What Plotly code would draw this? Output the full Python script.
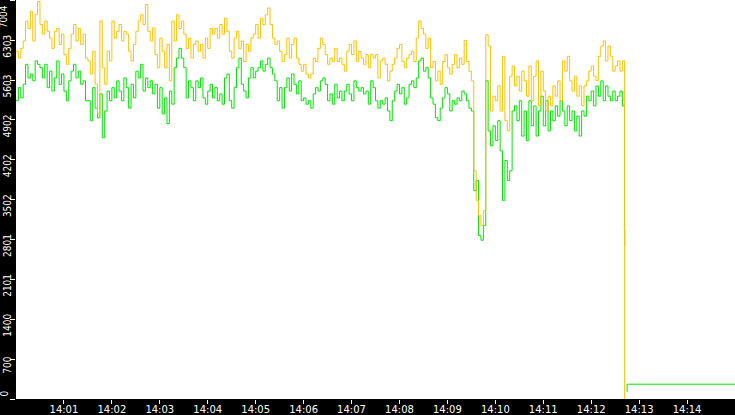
import pandas as pd
import plotly.graph_objects as go

day = '2024-01-01 '

# samples every 3 seconds from 14:00:00 up to 14:12:39
orange_vals = [
    6110, 5990, 6160, 6290, 6640, 6510, 6810, 6290, 6760, 6980,
    6580, 6410, 6640, 6460, 6340, 6160, 6460, 6510, 6230, 6410,
    6050, 5880, 6160, 6410, 6580, 6290, 6510, 6230, 6410, 5990,
    5940, 5710, 6110, 5530, 5010, 6640, 5820, 5530, 6110, 5940,
    6640, 6340, 6460, 6580, 6290, 6460, 6410, 6110, 5940, 6230,
    6460, 6640, 6750, 6580, 6930, 6460, 6290, 6520, 6050, 5820,
    6340, 6110, 5820, 6230, 5590, 6640, 6290, 6750, 6510, 6640,
    6410, 6160, 6340, 5990, 6230, 6290, 6110, 6230, 5990, 6340,
    6160, 6510, 6410, 6510, 6340, 6580, 6410, 6690, 6460, 6110,
    5990, 6340, 6460, 6160, 6290, 5930, 6230, 6110, 6340, 6410,
    6580, 6340, 6690, 6580, 6750, 6870, 6580, 6340, 6230, 6290,
    6110, 5930, 6050, 6340, 5990, 6230, 6340, 5990, 5880, 5760,
    5880, 5710, 5640, 5710, 5990, 5930, 6160, 6340, 6230, 6050,
    5880, 5990, 5930, 6160, 5930, 5990, 5880, 5760, 6110, 6230,
    6050, 6290, 5930, 6110, 5990, 5880, 6050, 5820, 6050, 5990,
    6050, 5640, 5940, 5990, 5880, 5590, 5760, 5880, 5990, 6160,
    6230, 5930, 5820, 5990, 6050, 6110, 5930, 6340, 6640, 6510,
    6410, 6160, 6340, 5820, 5930, 5590, 5760, 5530, 5930, 6050,
    5820, 5710, 5880, 6050, 5820, 5990, 5880, 6300, 5930, 5760,
    5590, 4010, 3490, 3220, 3050, 3310, 6400, 6200, 5060, 5320,
    5240, 5500, 5060, 6020, 4890, 4710, 5670, 5850, 5500, 5670,
    5410, 5760, 5590, 5320, 5850, 5240, 5670, 5940, 5150, 5760,
    5410, 5060, 5320, 5150, 5500, 5320, 5590, 5240, 5940, 5760,
    6020, 5590, 5410, 5670, 5320, 5500, 5150, 5500, 5590, 5760,
    5850, 5670, 5590, 6020, 6200, 6290, 5940, 6200, 6020, 5760,
    5850, 5940, 5760, 5940,
]
green_vals = [
    5240, 5470, 5290, 5530, 5880, 5640, 5710, 5590, 5940, 5880,
    5820, 5640, 5880, 5470, 5760, 5410, 5640, 5940, 5530, 5710,
    5410, 5240, 5590, 5760, 5880, 5640, 5760, 5530, 5590, 5240,
    5240, 4890, 5470, 5110, 4940, 5360, 4590, 5060, 5410, 5240,
    5470, 5290, 5590, 5410, 5240, 5640, 5470, 5110, 5530, 5290,
    5760, 5640, 5880, 5410, 5640, 5470, 5590, 5360, 5530, 5110,
    5470, 5010, 5290, 4840, 5410, 5180, 5820, 5990, 6160, 5990,
    5820, 5290, 5590, 5470, 5240, 5590, 5470, 5640, 5290, 5180,
    5410, 5530, 5290, 5470, 5240, 5360, 5180, 5640, 5710, 5240,
    5110, 5470, 5820, 5990, 5530, 5410, 5290, 5640, 5820, 5640,
    5760, 5820, 5940, 5760, 5880, 5990, 5820, 5710, 5590, 5240,
    5470, 5110, 5470, 5640, 5410, 5710, 5530, 5360, 5590, 5240,
    5290, 5180, 5240, 5110, 5360, 5470, 5410, 5590, 5640, 5530,
    5240, 5360, 5180, 5530, 5290, 5410, 5240, 5410, 5530, 5360,
    5240, 5590, 5470, 5410, 5470, 5360, 5410, 5180, 5590, 5470,
    5240, 5110, 5240, 5180, 5290, 5060, 4890, 5240, 5410, 5530,
    5360, 5470, 5180, 5290, 5530, 5590, 5470, 5640, 5940, 5990,
    5760, 5820, 5640, 5290, 5180, 4940, 4890, 5110, 5290, 5470,
    5360, 5060, 5240, 5180, 5290, 5240, 5410, 5360, 5240, 5110,
    5060, 3660, 3840, 2870, 2790, 3050, 5590, 4710, 4450, 4800,
    4540, 4890, 4360, 3490, 4190, 3840, 4010, 5060, 5150, 4890,
    5240, 4620, 5060, 4540, 5240, 4800, 5150, 4620, 5060, 5320,
    4800, 5240, 4710, 5060, 4890, 5150, 4970, 5240, 5060, 4800,
    5150, 4890, 5060, 4710, 4970, 4620, 5060, 4970, 5320, 5240,
    5410, 5150, 5500, 5320, 5590, 5240, 5500, 5320, 5240, 5410,
    5240, 5320, 5410, 5150,
]

# what happens after the cut-off
orange_tail_t = ['14:12:41.8']
orange_tail = [0]
green_tail_t = ['14:12:41.6', '14:12:42.0', '14:12:42.4', '14:12:44.5', '14:12:45', '14:15:00']
green_tail = [2970, 2690, None, 130, 260, 260]

y_ticks = [0, 700, 1400, 2101, 2801, 3502, 4202, 4902, 5603, 6303, 7004]
x_labels = ['14:01', '14:02', '14:03', '14:04', '14:05', '14:06', '14:07',
            '14:08', '14:09', '14:10', '14:11', '14:12', '14:13', '14:14']

t = pd.date_range(day + '14:00:00', periods=len(orange_vals), freq='3s')
orange_x = list(t) + [pd.Timestamp(day + s) for s in orange_tail_t]
green_x = list(t) + [pd.Timestamp(day + s) for s in green_tail_t]

fig = go.Figure()
fig.add_trace(go.Scatter(x=green_x, y=green_vals + green_tail, mode='lines', line_shape='hv',
                         line=dict(color='#00e600', width=1), name='green'))
fig.add_trace(go.Scatter(x=orange_x, y=orange_vals + orange_tail, mode='lines', line_shape='hv',
                         line=dict(color='#ffc000', width=1), name='orange'))

tick_font = dict(family='Liberation Sans Narrow, DejaVu Sans Condensed, Liberation Sans', size=10)

fig.update_layout(
    width=735, height=415,
    margin=dict(l=16, r=0, t=0, b=16),
    paper_bgcolor='black', plot_bgcolor='white',
    showlegend=False,
    font=dict(family='DejaVu Sans', size=10, color='white'),
)
fig.update_xaxes(
    range=[day + '14:00:00', day + '14:15:00'],
    tickvals=[day + s for s in x_labels], ticktext=x_labels,
    ticks='outside', ticklen=4, tickcolor='white', ticklabelstandoff=-3,
    showgrid=False, zeroline=False, showline=False, automargin=False,
)
# end labels are left blank on the axis and drawn as annotations below
fig.update_yaxes(
    range=[0, 7010], tickvals=y_ticks,
    ticktext=[''] + [str(v) for v in y_ticks[1:-1]] + [''],
    tickangle=-90, ticklabelposition='outside bottom',
    tickfont=tick_font,
    ticks='outside', ticklen=5, tickcolor='white',
    showgrid=False, zeroline=False, showline=False, automargin=False,
)

fig.add_annotation(x=0, xref='paper', xanchor='right', xshift=-5,
                   y=y_ticks[0], yref='y', yanchor='bottom',
                   text=str(y_ticks[0]), textangle=-90, showarrow=False,
                   font=tick_font)
fig.add_annotation(x=0, xref='paper', xanchor='right', xshift=-5,
                   y=y_ticks[-1], yref='y', yanchor='top', yshift=-3,
                   text=str(y_ticks[-1]), textangle=-90, showarrow=False,
                   font=tick_font)

fig.write_html('out.html', config={'displayModeBar': False},
               post_script="document.body.style.margin='0';")
